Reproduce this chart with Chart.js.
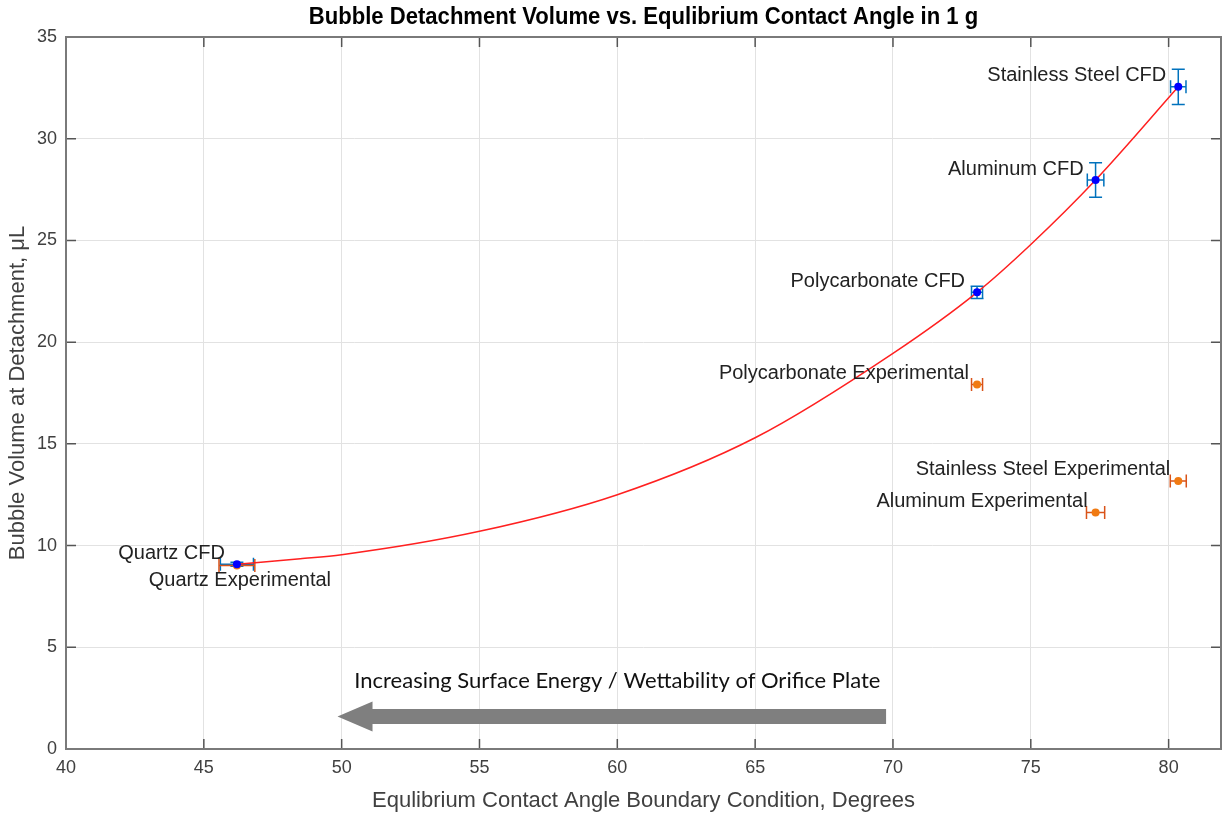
<!DOCTYPE html>
<html>
<head>
<meta charset="utf-8">
<script src="https://cdn.jsdelivr.net/npm/chart.js@4.4.1/dist/chart.umd.min.js"></script>
<style>
  html, body { margin: 0; padding: 0; background: #fff; }
</style>
</head>
<body>
<canvas id="myChart" width="1225" height="816"></canvas>
<script>
// CFD results
const cfdAngle = [46.2, 73.05, 77.35, 80.35]
const cfdVolume = [9.08, 22.45, 27.97, 32.55]
const cfdAngleErr = [0.6, 0.2, 0.3, 0.28]
const cfdVolumeErr = [0.1, 0.3, 0.85, 0.87]
const cfdLabels = ['Quartz CFD', 'Polycarbonate CFD', 'Aluminum CFD', 'Stainless Steel CFD']

// experimental results
const expAngle = [46.2, 73.05, 77.35, 80.35]
const expVolume = [9.02, 17.92, 11.63, 13.18]
const expAngleErr = [0.65, 0.2, 0.33, 0.29]
const expLabels = ['Quartz Experimental', 'Polycarbonate Experimental', 'Aluminum Experimental', 'Stainless Steel Experimental']

// fit curve
const fitAngle = [46.2, 48.5, 50, 55, 60, 65, 70, 73.05, 75, 77.35, 80.35]
const fitVolume = [9.08, 9.35, 9.55, 10.7, 12.5, 15.3, 19.45, 22.45, 24.8, 27.97, 32.55]

// annotation arrow
const arrowText = 'Increasing Surface Energy / Wettability of Orifice Plate'
const arrowFrom = 69.75
const arrowTo = 49.85
const arrowVolume = 1.6
const arrowTextAngle = 60
const arrowTextVolume = 3.35

const titleText = 'Bubble Detachment Volume vs. Equlibrium Contact Angle in 1 g'
const xTicks = [40, 45, 50, 55, 60, 65, 70, 75, 80]

const pts = (xs, ys) => xs.map((x, i) => ({ x: x, y: ys[i] }))

const decor = {
  id: 'decor',
  beforeDatasetsDraw (chart) {
    const { ctx, scales: { x, y } } = chart
    const bar = (xs, ys, xe, ye, color) => {
      ctx.save()
      ctx.strokeStyle = color
      ctx.lineWidth = 1.5
      xs.forEach((v, i) => {
        const px = x.getPixelForValue(v)
        const py = y.getPixelForValue(ys[i])
        ctx.beginPath()
        if (xe && xe[i]) {
          const l = x.getPixelForValue(v - xe[i])
          const r = x.getPixelForValue(v + xe[i])
          ctx.moveTo(l, py); ctx.lineTo(r, py)
          ctx.moveTo(l, py - 6.5); ctx.lineTo(l, py + 6.5)
          ctx.moveTo(r, py - 6.5); ctx.lineTo(r, py + 6.5)
        }
        if (ye && ye[i]) {
          const t = y.getPixelForValue(ys[i] + ye[i])
          const b = y.getPixelForValue(ys[i] - ye[i])
          ctx.moveTo(px, t); ctx.lineTo(px, b)
          ctx.moveTo(px - 6.5, t); ctx.lineTo(px + 6.5, t)
          ctx.moveTo(px - 6.5, b); ctx.lineTo(px + 6.5, b)
        }
        ctx.stroke()
      })
      ctx.restore()
    }
    bar(cfdAngle, cfdVolume, cfdAngleErr, cfdVolumeErr, '#0072bd')
    bar(expAngle, expVolume, expAngleErr, null, '#d95319')
  },
  afterDatasetsDraw (chart) {
    const { ctx, scales: { x, y } } = chart
    ctx.save()
    ctx.font = '20px "Liberation Sans", Arial, sans-serif'
    ctx.fillStyle = '#222'
    ctx.textBaseline = 'middle'
    const put = (xs, ys, labels, dx) => {
      labels.forEach((s, i) => {
        const px = x.getPixelForValue(xs[i])
        const py = y.getPixelForValue(ys[i])
        if (s === 'Quartz Experimental') {
          ctx.textAlign = 'center'
          ctx.fillText(s, px + 3, py + 15)
        } else {
          ctx.textAlign = 'right'
          ctx.fillText(s, px + dx, py - 11)
        }
      })
    }
    put(cfdAngle, cfdVolume, cfdLabels, -12)
    put(expAngle, expVolume, expLabels, -8)

    // arrow
    const ay = y.getPixelForValue(arrowVolume)
    const a0 = x.getPixelForValue(arrowFrom)
    const a1 = x.getPixelForValue(arrowTo)
    ctx.fillStyle = '#7f7f7f'
    ctx.beginPath()
    ctx.moveTo(a0, ay - 7.5)
    ctx.lineTo(a1 + 35, ay - 7.5)
    ctx.lineTo(a1 + 35, ay - 15)
    ctx.lineTo(a1, ay)
    ctx.lineTo(a1 + 35, ay + 15)
    ctx.lineTo(a1 + 35, ay + 7.5)
    ctx.lineTo(a0, ay + 7.5)
    ctx.closePath()
    ctx.fill()
    ctx.font = '22px Lato, "Open Sans", sans-serif'
    ctx.fillStyle = '#111'
    ctx.textAlign = 'center'
    ctx.fillText(arrowText, x.getPixelForValue(arrowTextAngle), y.getPixelForValue(arrowTextVolume))
    ctx.restore()
  },
  afterDraw (chart) {
    const { ctx, chartArea: a, scales: { x, y } } = chart
    ctx.save()
    ctx.strokeStyle = '#555'
    ctx.lineWidth = 1.5
    ctx.beginPath()
    x.ticks.forEach(t => {
      const px = x.getPixelForValue(t.value)
      ctx.moveTo(px, a.bottom); ctx.lineTo(px, a.bottom - 10)
      ctx.moveTo(px, a.top); ctx.lineTo(px, a.top + 10)
    })
    y.ticks.forEach(t => {
      const py = y.getPixelForValue(t.value)
      ctx.moveTo(a.left, py); ctx.lineTo(a.left + 10, py)
      ctx.moveTo(a.right, py); ctx.lineTo(a.right - 10, py)
    })
    ctx.stroke()
    ctx.strokeStyle = '#7a7a7a'
    ctx.lineWidth = 2
    ctx.strokeRect(a.left, a.top, a.right - a.left, a.bottom - a.top)

    // title, a bit condensed, centred over the axes
    ctx.font = 'bold 23px "Liberation Sans", Arial, sans-serif'
    ctx.fillStyle = '#000'
    ctx.textAlign = 'center'
    ctx.textBaseline = 'middle'
    ctx.translate((a.left + a.right) / 2, 18)
    ctx.scale(0.96, 1)
    ctx.fillText(titleText, 0, 0)
    ctx.restore()
  }
}

const ctx = document.getElementById('myChart')
// eslint-disable-next-line no-unused-vars
const myChart = new Chart(ctx, {
  type: 'scatter',
  data: {
    datasets: [{
      data: pts(fitAngle, fitVolume),
      showLine: true,
      borderColor: '#ff2020',
      borderWidth: 1.5,
      pointRadius: 0,
      cubicInterpolationMode: 'monotone',
      order: 3
    }, {
      data: pts(cfdAngle, cfdVolume),
      pointRadius: 4,
      backgroundColor: '#0000ff',
      borderWidth: 0,
      order: 1
    }, {
      data: pts(expAngle, expVolume),
      pointRadius: 4,
      backgroundColor: '#f07a12',
      borderWidth: 0,
      order: 2
    }]
  },
  options: {
    responsive: false,
    animation: false,
    layout: { padding: { right: 3, top: 37 } },
    scales: {
      x: {
        type: 'linear',
        min: 40,
        max: 81.9,
        afterBuildTicks: s => { s.ticks = xTicks.map(v => ({ value: v })) },
        afterFit: s => { s.height = 67 },
        ticks: {
          stepSize: 5,
          autoSkip: false,
          maxRotation: 0,
          padding: 8,
          color: '#404040',
          font: { family: '"Liberation Sans", Arial, sans-serif', size: 18 }
        },
        grid: { color: '#e2e2e2', drawTicks: false },
        border: { display: false },
        title: {
          display: true,
          text: 'Equlibrium Contact Angle Boundary Condition, Degrees',
          color: '#404040',
          padding: { top: 0, bottom: 2 },
          font: { family: '"Liberation Sans", Arial, sans-serif', size: 22 }
        }
      },
      y: {
        min: 0,
        max: 35,
        afterFit: s => { s.width = 66 },
        ticks: {
          stepSize: 5,
          padding: 9,
          color: '#404040',
          font: { family: '"Liberation Sans", Arial, sans-serif', size: 18 }
        },
        grid: { color: '#e2e2e2', drawTicks: false },
        border: { display: false },
        title: {
          display: true,
          text: 'Bubble Volume at Detachment, μL',
          color: '#404040',
          padding: { top: 5, bottom: 0 },
          font: { family: '"Liberation Sans", Arial, sans-serif', size: 22 }
        }
      }
    },
    plugins: {
      legend: { display: false },
      tooltip: { enabled: false },
      title: { display: false }
    }
  },
  plugins: [decor]
})
</script>
</body>
</html>
